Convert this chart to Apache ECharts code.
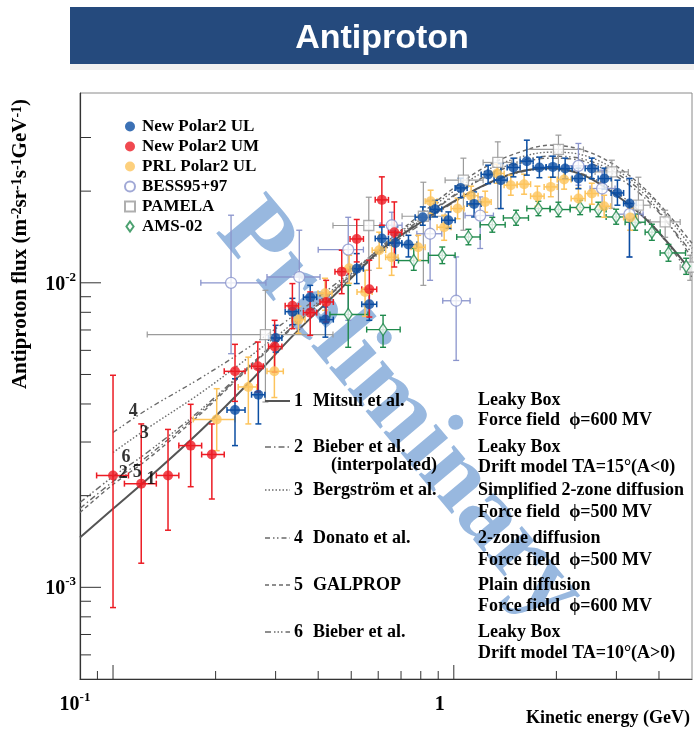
<!DOCTYPE html>
<html>
<head>
<meta charset="utf-8">
<script src="https://cdn.jsdelivr.net/npm/echarts@6/dist/echarts.min.js"></script>
<style>
  html, body { margin: 0; padding: 0; background: #fff; }
  #chart { width: 694px; height: 729px; }
</style>
</head>
<body>
<div id="chart"></div>
<script>
// ---------------------------------------------------------------------------
// Antiproton flux vs kinetic energy.
// Each measurement row: [E (GeV), flux, E low, E high, flux low, flux high]
// flux unit: m^-2 sr^-1 s^-1 GeV^-1
// ---------------------------------------------------------------------------
const polar2UL = [
  [0.228, 3.82e-3, 0.216, 0.244, 2.92e-3, 4.84e-3],
  [0.267, 4.29e-3, 0.255, 0.279, 3.44e-3, 5.22e-3],
  [0.300, 6.59e-3, 0.286, 0.313, 5.92e-3, 7.25e-3],
  [0.336, 8.04e-3, 0.320, 0.350, 7.28e-3, 8.89e-3],
  [0.379, 8.97e-3, 0.362, 0.396, 8.18e-3, 9.81e-3],
  [0.420, 7.57e-3, 0.405, 0.443, 6.63e-3, 8.33e-3],
  [0.519, 1.112e-2, 0.496, 0.543, 9.94e-3, 1.247e-2],
  [0.565, 8.50e-3, 0.537, 0.594, 7.53e-3, 9.33e-3],
  [0.615, 1.397e-2, 0.588, 0.643, 1.279e-2, 1.526e-2],
  [0.674, 1.351e-2, 0.643, 0.704, 1.186e-2, 1.526e-2],
  [0.736, 1.335e-2, 0.704, 0.779, 1.216e-2, 1.432e-2],
  [0.811, 1.641e-2, 0.770, 0.852, 1.545e-2, 1.775e-2],
  [0.881, 1.744e-2, 0.852, 0.922, 1.645e-2, 1.867e-2],
  [0.964, 1.605e-2, 0.922, 1.009, 1.508e-2, 1.709e-2],
  [1.047, 2.049e-2, 1.009, 1.094, 1.903e-2, 2.205e-2],
  [1.147, 1.816e-2, 1.094, 1.203, 1.645e-2, 1.988e-2],
  [1.261, 2.270e-2, 1.203, 1.313, 2.115e-2, 2.433e-2],
  [1.374, 2.173e-2, 1.313, 1.434, 1.753e-2, 2.465e-2],
  [1.496, 2.391e-2, 1.434, 1.565, 2.228e-2, 2.566e-2],
  [1.638, 2.508e-2, 1.565, 1.709, 2.257e-2, 2.940e-2],
  [1.783, 2.391e-2, 1.709, 1.866, 2.214e-2, 2.586e-2],
  [1.953, 2.402e-2, 1.866, 2.038, 2.222e-2, 2.605e-2],
  [2.122, 2.373e-2, 2.038, 2.225, 2.197e-2, 2.566e-2],
  [2.321, 2.200e-2, 2.225, 2.429, 2.037e-2, 2.379e-2],
  [2.541, 2.373e-2, 2.429, 2.652, 2.197e-2, 2.566e-2],
  [2.767, 2.200e-2, 2.652, 2.895, 2.030e-2, 2.379e-2],
  [3.021, 1.973e-2, 2.895, 3.150, 1.798e-2, 2.173e-2],
  [3.277, 1.821e-2, 3.150, 3.428, 1.216e-2, 2.200e-2]
];

const polar2UM = [
  [0.100, 2.33e-3, 0.0895, 0.111, 8.58e-4, 4.97e-3],
  [0.121, 2.19e-3, 0.108, 0.134, 1.20e-3, 3.44e-3],
  [0.145, 2.33e-3, 0.134, 0.156, 1.54e-3, 3.30e-3],
  [0.169, 2.92e-3, 0.156, 0.182, 2.14e-3, 3.99e-3],
  [0.195, 2.73e-3, 0.182, 0.212, 1.95e-3, 3.44e-3],
  [0.228, 5.12e-3, 0.212, 0.244, 4.08e-3, 6.28e-3],
  [0.266, 5.32e-3, 0.255, 0.276, 4.38e-3, 6.39e-3],
  [0.298, 6.18e-3, 0.286, 0.313, 5.09e-3, 7.53e-3],
  [0.336, 8.40e-3, 0.320, 0.350, 7.07e-3, 9.94e-3],
  [0.379, 7.98e-3, 0.362, 0.396, 6.72e-3, 9.33e-3],
  [0.422, 8.65e-3, 0.405, 0.443, 7.43e-3, 1.019e-2],
  [0.469, 1.088e-2, 0.448, 0.490, 9.21e-3, 1.279e-2],
  [0.519, 1.393e-2, 0.496, 0.543, 1.171e-2, 1.614e-2],
  [0.565, 9.52e-3, 0.537, 0.594, 7.72e-3, 1.186e-2],
  [0.615, 1.872e-2, 0.588, 0.643, 1.545e-2, 2.228e-2],
  [0.669, 1.466e-2, 0.643, 0.704, 1.127e-2, 1.843e-2]
];

const prlPolar2UL = [
  [0.2015, 3.56e-3, 0.172, 0.228, 2.81e-3, 4.49e-3],
  [0.2495, 4.55e-3, 0.233, 0.264, 3.44e-3, 5.70e-3],
  [0.2975, 5.12e-3, 0.283, 0.316, 4.20e-3, 6.14e-3],
  [0.350, 7.57e-3, 0.3345, 0.366, 6.82e-3, 8.37e-3],
  [0.419, 9.24e-3, 0.3995, 0.439, 8.12e-3, 1.035e-2],
  [0.493, 1.116e-2, 0.470, 0.517, 9.96e-3, 1.231e-2],
  [0.549, 9.33e-3, 0.520, 0.576, 7.76e-3, 1.099e-2],
  [0.604, 1.279e-2, 0.576, 0.631, 1.116e-2, 1.466e-2],
  [0.657, 1.213e-2, 0.631, 0.686, 1.058e-2, 1.379e-2],
  [0.786, 1.308e-2, 0.749, 0.824, 1.186e-2, 1.432e-2],
  [0.855, 1.853e-2, 0.824, 0.893, 1.692e-2, 2.014e-2],
  [0.937, 1.522e-2, 0.893, 0.982, 1.379e-2, 1.667e-2],
  [1.026, 1.753e-2, 0.982, 1.072, 1.623e-2, 1.896e-2],
  [1.124, 1.932e-2, 1.072, 1.178, 1.798e-2, 2.076e-2],
  [1.236, 1.843e-2, 1.178, 1.287, 1.705e-2, 1.999e-2],
  [1.340, 2.286e-2, 1.287, 1.405, 2.123e-2, 2.452e-2],
  [1.470, 2.092e-2, 1.405, 1.534, 1.939e-2, 2.257e-2],
  [1.608, 2.108e-2, 1.534, 1.680, 1.954e-2, 2.274e-2],
  [1.759, 1.925e-2, 1.680, 1.841, 1.784e-2, 2.076e-2],
  [1.926, 2.065e-2, 1.841, 2.011, 1.917e-2, 2.222e-2],
  [2.107, 2.183e-2, 2.011, 2.210, 2.030e-2, 2.343e-2],
  [2.321, 1.891e-2, 2.210, 2.429, 1.751e-2, 2.045e-2],
  [2.541, 1.964e-2, 2.429, 2.652, 1.811e-2, 2.123e-2],
  [2.762, 1.784e-2, 2.652, 2.885, 1.641e-2, 1.939e-2],
  [3.293, 1.638e-2, 3.150, 3.440, 1.488e-2, 1.757e-2]
];

const bess9597 = [
  [0.222, 1.000e-2, 0.181, 0.281, 5.85e-3, 1.667e-2],
  [0.352, 1.045e-2, 0.283, 0.405, 7.09e-3, 1.488e-2],
  [0.490, 1.285e-2, 0.400, 0.543, 7.53e-3, 1.641e-2],
  [0.658, 1.545e-2, 0.608, 0.705, 1.379e-2, 1.705e-2],
  [0.852, 1.449e-2, 0.779, 0.922, 1.019e-2, 1.867e-2],
  [1.016, 8.73e-3, 0.928, 1.116, 5.56e-3, 1.216e-2],
  [1.195, 1.663e-2, 1.079, 1.307, 1.296e-2, 1.914e-2],
  [2.321, 2.421e-2, 2.122, 2.547, 2.092e-2, 2.868e-2],
  [2.724, 2.040e-2, 2.511, 2.973, 1.731e-2, 2.343e-2],
  [3.277, 1.680e-2, 2.995, 3.594, 1.213e-2, 2.204e-2]
];

const pamela = [
  [0.280, 6.76e-3, 0.126, 0.442, 4.06e-3, 9.45e-3],
  [0.563, 1.542e-2, 0.442, 0.643, 1.099e-2, 1.910e-2],
  [0.814, 1.654e-2, 0.705, 0.943, 9.81e-3, 2.139e-2],
  [1.067, 2.173e-2, 0.943, 1.219, 1.488e-2, 2.566e-2],
  [1.346, 2.484e-2, 1.219, 1.480, 1.753e-2, 2.903e-2],
  [2.028, 2.741e-2, 1.638, 2.401, 1.744e-2, 3.054e-2],
  [2.909, 2.313e-2, 2.598, 3.252, 1.757e-2, 2.527e-2],
  [3.481, 1.798e-2, 3.252, 3.769, 1.569e-2, 2.222e-2],
  [4.171, 1.585e-2, 3.769, 4.616, 1.411e-2, 1.731e-2],
  [4.939, 1.125e-2, 4.616, 5.000, 1.019e-2, 1.231e-2]
];

const ams02 = [
  [0.490, 7.87e-3, 0.433, 0.560, 6.14e-3, 9.81e-3],
  [0.620, 7.02e-3, 0.555, 0.696, 6.14e-3, 7.82e-3],
  [0.763, 1.183e-2, 0.688, 0.842, 1.099e-2, 1.296e-2],
  [0.925, 1.231e-2, 0.842, 1.009, 1.156e-2, 1.311e-2],
  [1.104, 1.414e-2, 1.020, 1.195, 1.333e-2, 1.499e-2],
  [1.297, 1.551e-2, 1.195, 1.415, 1.466e-2, 1.641e-2],
  [1.523, 1.633e-2, 1.398, 1.656, 1.545e-2, 1.731e-2],
  [1.771, 1.753e-2, 1.638, 1.917, 1.661e-2, 1.853e-2],
  [2.028, 1.740e-2, 1.917, 2.195, 1.648e-2, 1.839e-2],
  [2.348, 1.767e-2, 2.195, 2.512, 1.674e-2, 1.867e-2],
  [2.657, 1.740e-2, 2.512, 2.799, 1.648e-2, 1.839e-2],
  [2.995, 1.645e-2, 2.799, 3.182, 1.557e-2, 1.744e-2],
  [3.405, 1.581e-2, 3.182, 3.643, 1.488e-2, 1.680e-2],
  [3.813, 1.466e-2, 3.643, 4.032, 1.379e-2, 1.557e-2],
  [4.265, 1.253e-2, 4.032, 4.786, 1.177e-2, 1.337e-2],
  [4.807, 1.133e-2, 4.786, 5.000, 1.066e-2, 1.204e-2]
];

// Model predictions sampled on a common energy grid (null = not computed there)
const modelEnergy = [0.08, 0.1, 0.126, 0.18, 0.25, 0.34, 0.46, 0.6, 0.8, 0.98, 1.22, 1.53, 1.92, 2.4, 3.0, 3.77, 5.0];
const modelMitsui = [1.457e-3, 1.810e-3, 2.263e-3, 3.254e-3, 4.688e-3, 6.771e-3, 9.42e-3, 1.260e-2, 1.581e-2, 1.825e-2, 2.086e-2, 2.308e-2, 2.379e-2, 2.257e-2, 1.939e-2, 1.569e-2, 1.083e-2];
const modelBieberInterp = [1.815e-3, 2.226e-3, 2.689e-3, 3.752e-3, 5.276e-3, 7.249e-3, 9.74e-3, 1.260e-2, 1.605e-2, 1.896e-2, 2.205e-2, 2.452e-2, 2.566e-2, 2.508e-2, 2.239e-2, 1.825e-2, 1.250e-2];
const modelBergstrom = [null, 2.772e-3, 3.324e-3, 4.332e-3, 5.689e-3, 7.416e-3, 9.89e-3, 1.279e-2, 1.654e-2, 1.969e-2, 2.308e-2, 2.566e-2, 2.685e-2, 2.625e-2, 2.343e-2, 1.925e-2, 1.298e-2];
const modelDonato = [null, 3.224e-3, 3.838e-3, 4.853e-3, 6.138e-3, 7.818e-3, 1.011e-2, 1.279e-2, 1.617e-2, 1.910e-2, 2.222e-2, 2.489e-2, 2.605e-2, 2.547e-2, 2.291e-2, 1.867e-2, 1.204e-2];
const modelGalprop = [1.760e-3, 2.176e-3, 2.628e-3, 3.695e-3, 5.236e-3, 7.194e-3, 9.74e-3, 1.288e-2, 1.680e-2, 2.014e-2, 2.379e-2, 2.665e-2, 2.831e-2, 2.726e-2, 2.415e-2, 1.954e-2, 1.348e-2];
const modelBieber = [1.898e-3, 2.311e-3, 2.772e-3, 3.810e-3, 5.315e-3, 7.249e-3, 9.66e-3, 1.240e-2, 1.557e-2, 1.811e-2, 2.076e-2, 2.291e-2, 2.379e-2, 2.274e-2, 1.983e-2, 1.581e-2, 1.042e-2];

// Curve number tags at the low-energy end: [E, flux, tag]
const curveTags = [
  [0.1147, 3.79e-3, '4'],
  [0.1235, 3.21e-3, '3'],
  [0.1092, 2.675e-3, '6'],
  [0.1072, 2.36e-3, '2'],
  [0.1178, 2.39e-3, '5'],
  [0.1292, 2.254e-3, '1']
];

// Axis ranges and tick values
const xRange = [0.08, 5];
const yRange = [5e-4, 0.042];
const xMajorTicks = [0.1, 1];
const xMinorTicks = [0.09, 0.2, 0.3, 0.4, 0.5, 0.6, 0.7, 0.8, 0.9, 2, 3, 4];
const yMajorTicks = [1e-3, 1e-2];
const yMinorTicks = [6e-4, 7e-4, 8e-4, 9e-4, 2e-3, 3e-3, 4e-3, 5e-3, 6e-3, 7e-3, 8e-3, 9e-3, 2e-2, 3e-2];

// ---------------------------------------------------------------------------
const SERIF = '"Liberation Serif", "Times New Roman", "DejaVu Serif", serif';
const SANS = '"Liberation Sans", Arial, sans-serif';

const C_UL = '#0b4ea2';
const C_UM = '#ec1c24';
const C_PRL = '#fdc45c';
const C_BESS = '#8a94cc';
const C_PAM = '#9b9b9b';
const C_AMS = '#1f8a4c';
const C_MODEL = '#6a6a6a';

// square and diamond legend glyphs (paths keep their aspect ratio)
const ICON_SQUARE = 'path://M0,0L10,0L10,10L0,10Z';
const ICON_DIAMOND = 'path://M5,0L10,7L5,14L0,7Z';

function errorBars(rows, color, width, cap) {
  return {
    type: 'custom',
    data: rows,
    silent: true,
    clip: true,
    z: 3,
    encode: { x: 0, y: 1 },
    renderItem: function (params, api) {
      const e = api.value(0), f = api.value(1);
      const c = api.coord([e, f]);
      const l = api.coord([api.value(2), f]);
      const r = api.coord([api.value(3), f]);
      const lo = api.coord([e, api.value(4)]);
      const hi = api.coord([e, api.value(5)]);
      const st = { stroke: color, lineWidth: width };
      const h = cap / 2;
      return {
        type: 'group',
        children: [
          { type: 'line', shape: { x1: l[0], y1: c[1], x2: r[0], y2: c[1] }, style: st },
          { type: 'line', shape: { x1: c[0], y1: hi[1], x2: c[0], y2: lo[1] }, style: st },
          { type: 'line', shape: { x1: l[0], y1: c[1] - h, x2: l[0], y2: c[1] + h }, style: st },
          { type: 'line', shape: { x1: r[0], y1: c[1] - h, x2: r[0], y2: c[1] + h }, style: st },
          { type: 'line', shape: { x1: c[0] - h, y1: hi[1], x2: c[0] + h, y2: hi[1] }, style: st },
          { type: 'line', shape: { x1: c[0] - h, y1: lo[1], x2: c[0] + h, y2: lo[1] }, style: st }
        ]
      };
    }
  };
}

function points(name, rows, symbol, size, itemStyle) {
  return {
    type: 'scatter',
    name: name,
    data: rows.map(function (r) { return [r[0], r[1]]; }),
    symbol: symbol,
    symbolSize: size,
    itemStyle: itemStyle,
    z: 4,
    emphasis: { disabled: true },
    silent: true
  };
}

function modelLine(values, dash, color, width) {
  const data = [];
  modelEnergy.forEach(function (e, i) {
    if (values[i] != null) data.push([e, values[i]]);
  });
  return {
    type: 'line',
    data: data,
    showSymbol: false,
    smooth: 0.35,
    silent: true,
    z: 2,
    lineStyle: { color: color, width: width, type: dash }
  };
}

// axis ticks drawn inward from the frame, placed through the axis scales
function tickSeries(values, axis, len) {
  return {
    type: 'custom',
    silent: true,
    z: 5,
    data: values.map(function (v) { return axis === 'x' ? [v, yRange[0]] : [xRange[0], v]; }),
    encode: { x: 0, y: 1 },
    renderItem: function (params, api) {
      const p = api.coord([api.value(0), api.value(1)]);
      const shape = axis === 'x'
        ? { x1: p[0], y1: p[1], x2: p[0], y2: p[1] - len }
        : { x1: p[0], y1: p[1], x2: p[0] + len, y2: p[1] };
      return { type: 'line', shape: shape, style: { stroke: '#333', lineWidth: 1 } };
    }
  };
}

function isDecade(v, p) {
  return Math.abs(Math.log10(v) - p) < 1e-6;
}

const labelRich = {
  b: { fontFamily: SERIF, fontWeight: 'bold', fontSize: 20, color: '#000', lineHeight: 24, verticalAlign: 'bottom' },
  s: { fontFamily: SERIF, fontWeight: 'bold', fontSize: 13, color: '#000', lineHeight: 13, verticalAlign: 'top' },
  g1: { width: 76 },
  g2: { width: 28 }
};

// descriptive key to the model curves (text block in the lower right)
const modelKey = [
  { num: '1', name: 'Mitsui et al.', y: 401, dash: null, width: 2, color: '#555' },
  { num: '2', name: 'Bieber et al.', y: 447, dash: [6, 3, 1.5, 3], width: 1.4, color: C_MODEL },
  { num: '3', name: 'Bergström et al.', y: 490, dash: [1.5, 2], width: 1.4, color: C_MODEL },
  { num: '4', name: 'Donato et al.', y: 538, dash: [5, 3, 1.5, 2.5, 1.5, 3], width: 1.4, color: C_MODEL },
  { num: '5', name: 'GALPROP', y: 585, dash: [4, 3], width: 1.4, color: C_MODEL },
  { num: '6', name: 'Bieber et al.', y: 632, dash: [6, 3, 1.5, 2, 1.5, 2, 1.5, 3], width: 1.4, color: C_MODEL }
];
const modelNotes = [
  ['Leaky Box', 400], ['Force field  \u03d5=600 MV', 420],
  ['Leaky Box', 447], ['Drift model TA=15\u00b0(A<0)', 467],
  ['Simplified 2-zone diffusion', 490], ['Force field  \u03d5=500 MV', 512],
  ['2-zone diffusion', 538], ['Force field  \u03d5=500 MV', 560],
  ['Plain diffusion', 585], ['Force field  \u03d5=600 MV', 606],
  ['Leaky Box', 632], ['Drift model TA=10\u00b0(A>0)', 653]
];

function keyText(text, x, y) {
  return {
    type: 'text', x: x, y: y, z: 20, silent: true,
    style: { text: text, fontFamily: SERIF, fontWeight: 'bold', fontSize: 18, fill: '#000', align: 'left', verticalAlign: 'middle' }
  };
}

const graphics = [
  // title banner
  { type: 'rect', z: 1, silent: true, shape: { x: 70, y: 64, width: 624, height: 6 }, style: { fill: 'rgba(0,0,0,0.06)' } },
  { type: 'rect', z: 1, silent: true, shape: { x: 70, y: 7, width: 624, height: 57 }, style: { fill: '#254a7d' } },
  { type: 'text', z: 2, silent: true, x: 382, y: 39,
    style: { text: 'Antiproton', fontFamily: SANS, fontWeight: 'bold', fontSize: 34, fill: '#fff', align: 'center', verticalAlign: 'middle' } },
  // watermark
  { type: 'text', z: 0, silent: true, x: 400, y: 412, rotation: -50 * Math.PI / 180,
    style: { text: 'Preliminary', fontFamily: SERIF, fontWeight: 'bold', fontSize: 100, fill: '#98b8df', align: 'center', verticalAlign: 'middle' } },
  // axis titles
  { type: 'text', z: 20, silent: true, x: 21, y: 244, rotation: Math.PI / 2,
    style: {
      text: 'Antiproton flux (m{s|-2}sr{s|-1}s{s|-1}GeV{s|-1})',
      fontFamily: SERIF, fontWeight: 'bold', fontSize: 21, fill: '#000', align: 'center', verticalAlign: 'middle',
      rich: {
        s: { fontFamily: SERIF, fontWeight: 'bold', fontSize: 14, fill: '#000', lineHeight: 14, verticalAlign: 'top' }
      }
    } },
  { type: 'text', z: 20, silent: true, x: 690, y: 718,
    style: { text: 'Kinetic energy (GeV)', fontFamily: SERIF, fontWeight: 'bold', fontSize: 18, fill: '#000', align: 'right', verticalAlign: 'middle' } }
];

modelKey.forEach(function (k) {
  graphics.push({
    type: 'line', z: 20, silent: true,
    shape: { x1: 265, y1: k.y, x2: 290, y2: k.y },
    style: { stroke: k.color, lineWidth: k.width, lineDash: k.dash }
  });
  graphics.push(keyText(k.num, 294, k.y));
  graphics.push(keyText(k.name, 313, k.y));
});
graphics.push(keyText('(interpolated)', 331, 465));
modelNotes.forEach(function (n) { graphics.push(keyText(n[0], 478, n[1])); });

const chart = echarts.init(document.getElementById('chart'), null, { renderer: 'canvas' });

chart.setOption({
  animation: false,
  backgroundColor: '#fff',
  grid: {
    left: 80, right: 2, top: 93, bottom: 50,
    containLabel: false, outerBoundsMode: 'none',
    show: true, borderColor: '#8a8a8a', borderWidth: 1
  },
  legend: {
    orient: 'vertical',
    left: 124, top: 118, padding: 0,
    itemWidth: 14, itemHeight: 10, itemGap: 3,
    symbolKeepAspect: true,
    selectedMode: false,
    textStyle: { fontFamily: SERIF, fontWeight: 'bold', fontSize: 17, color: '#000', lineHeight: 17 },
    data: [
      { name: 'New Polar2 UL', icon: 'circle' },
      { name: 'New Polar2 UM', icon: 'circle' },
      { name: 'PRL Polar2 UL', icon: 'circle' },
      { name: 'BESS95+97', icon: 'circle' },
      { name: 'PAMELA', icon: ICON_SQUARE },
      { name: 'AMS-02', icon: ICON_DIAMOND }
    ]
  },
  xAxis: {
    type: 'log', logBase: 10, min: xRange[0], max: xRange[1],
    axisLine: { show: true, lineStyle: { color: '#333', width: 1.2 } },
    axisTick: { show: false },
    splitLine: { show: false },
    axisLabel: {
      margin: 12,
      formatter: function (v) {
        if (isDecade(v, -1)) return '{b|10}{s|-1}{g1| }';
        if (isDecade(v, 0)) return '{b|1}{g2| }';
        return '';
      },
      rich: labelRich
    }
  },
  yAxis: {
    type: 'log', logBase: 10, min: yRange[0], max: yRange[1],
    axisLine: { show: true, lineStyle: { color: '#333', width: 1.2 } },
    axisTick: { show: false },
    splitLine: { show: false },
    axisLabel: {
      margin: 4,
      formatter: function (v) {
        if (isDecade(v, -2)) return '{b|10}{s|-2}';
        if (isDecade(v, -3)) return '{b|10}{s|-3}';
        return '';
      },
      rich: labelRich
    }
  },
  graphic: graphics,
  series: [
    modelLine(modelBieberInterp, [6, 3, 1.5, 3], C_MODEL, 1.4),
    modelLine(modelBergstrom, [1.5, 2], C_MODEL, 1.4),
    modelLine(modelDonato, [5, 3, 1.5, 2.5, 1.5, 3], C_MODEL, 1.4),
    modelLine(modelGalprop, [4, 3], C_MODEL, 1.4),
    modelLine(modelBieber, [6, 3, 1.5, 2, 1.5, 2, 1.5, 3], C_MODEL, 1.4),
    modelLine(modelMitsui, 'solid', '#555', 2),

    errorBars(pamela, C_PAM, 1.2, 6),
    points('PAMELA', pamela, 'rect', 10, { color: '#fff', borderColor: C_PAM, borderWidth: 1.3 }),
    errorBars(bess9597, C_BESS, 1.3, 6),
    points('BESS95+97', bess9597, 'circle', 11, { color: '#fff', borderColor: C_BESS, borderWidth: 1.3 }),
    errorBars(ams02, C_AMS, 1.4, 6),
    points('AMS-02', ams02, 'diamond', [8, 12], { color: '#fff', borderColor: C_AMS, borderWidth: 1.4 }),
    errorBars(prlPolar2UL, C_PRL, 1.5, 6),
    points('PRL Polar2 UL', prlPolar2UL, 'circle', 10, { color: C_PRL }),
    errorBars(polar2UL, C_UL, 1.5, 6),
    points('New Polar2 UL', polar2UL, 'circle', 10, { color: C_UL }),
    errorBars(polar2UM, C_UM, 1.5, 6),
    points('New Polar2 UM', polar2UM, 'circle', 10, { color: C_UM }),

    {
      type: 'scatter',
      silent: true,
      z: 6,
      symbolSize: 0,
      data: curveTags.map(function (t) { return { value: [t[0], t[1]], name: t[2] }; }),
      label: {
        show: true, position: 'inside', formatter: '{b}',
        fontFamily: SERIF, fontWeight: 'bold', fontSize: 18, color: '#000'
      }
    },

    tickSeries(xMajorTicks, 'x', 14),
    tickSeries(xMinorTicks, 'x', 8),
    tickSeries(yMajorTicks, 'y', 21),
    tickSeries(yMinorTicks, 'y', 11)
  ]
});
</script>
</body>
</html>
